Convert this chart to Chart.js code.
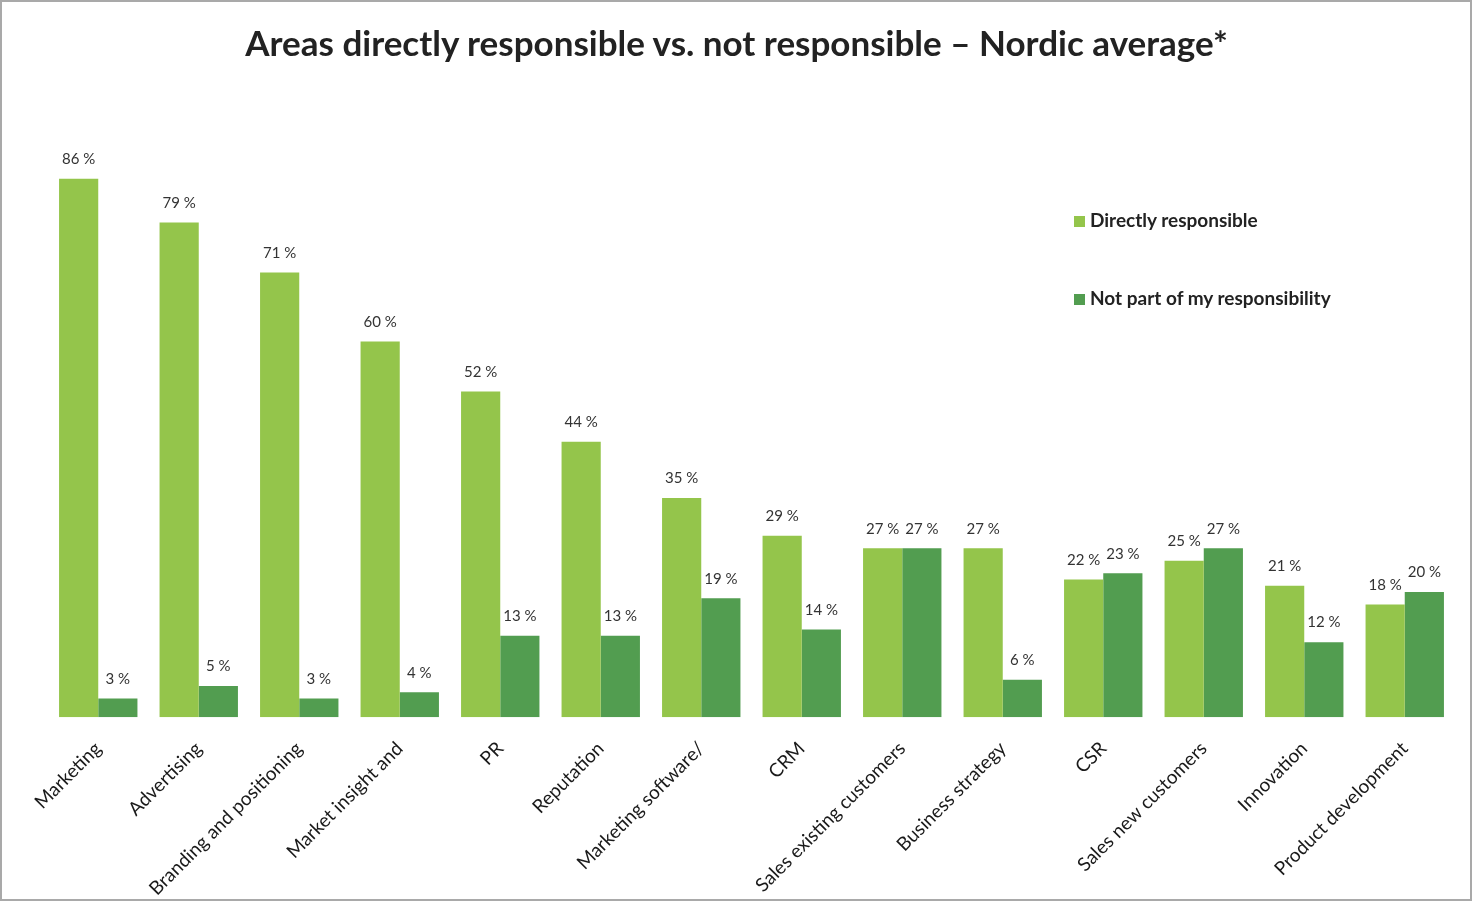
<!DOCTYPE html>
<html>
<head>
<meta charset="utf-8">
<script src="https://cdn.jsdelivr.net/npm/chart.js@4"></script>
<style>
  html, body { margin: 0; padding: 0; background: #fff; }
  #wrap { position: relative; width: 1473px; height: 902px; }
  #frame { position: absolute; left: 0; top: 0; width: 1468px; height: 897px; border: 2px solid #a9a9a9; pointer-events: none; }
  #title { position: absolute; left: 0; top: 22px; width: 1473px; text-align: center; font: bold 35px/40px Lato, sans-serif; color: #222; }
  .leg { position: absolute; left: 1074px; font: bold 19px Lato, sans-serif; color: #222; white-space: nowrap; }
  .leg span { display: inline-block; width: 11px; height: 11px; margin-right: 5px; }
</style>
</head>
<body>
<div id="wrap">
  <canvas id="chart" width="1473" height="902"></canvas>
  <div id="title">Areas directly responsible vs. not responsible – Nordic average*</div>
  <div class="leg" style="top:208px"><span style="background:#94c54b"></span>Directly responsible</div>
  <div class="leg" style="top:286px"><span style="background:#529d50"></span>Not part of my responsibility</div>
  <div id="frame"></div>
</div>
<script>
// Données du graphique
const categories = ['Marketing', 'Advertising', 'Branding and positioning', 'Market insight and',
  'PR', 'Reputation', 'Marketing software/', 'CRM', 'Sales existing customers',
  'Business strategy', 'CSR', 'Sales new customers', 'Innovation', 'Product development'];
const directly = [86, 79, 71, 60, 52, 44, 35, 29, 27, 27, 22, 25, 21, 18];
const notPart = [3, 5, 3, 4, 13, 13, 19, 14, 27, 6, 23, 27, 12, 20];

// Étiquettes de valeur au-dessus des barres
const valueLabels = {
    id: 'valueLabels',
    afterDatasetsDraw(chart) {
        const ctx = chart.ctx;
        ctx.save();
        ctx.font = '15px Lato, sans-serif';
        ctx.fillStyle = '#333';
        ctx.textAlign = 'center';
        ctx.textBaseline = 'bottom';
        chart.data.datasets.forEach((ds, i) => {
            chart.getDatasetMeta(i).data.forEach((bar, j) => {
                ctx.fillText(ds.data[j] + ' %', bar.x, bar.y - 12);
            });
        });
        ctx.restore();
    }
};

new Chart(document.getElementById('chart').getContext('2d'), {
    type: 'bar',
    data: {
        labels: categories,
        datasets: [
            { label: 'Directly responsible', data: directly, backgroundColor: '#94c54b', categoryPercentage: 0.78, barPercentage: 1 },
            { label: 'Not part of my responsibility', data: notPart, backgroundColor: '#529d50', categoryPercentage: 0.78, barPercentage: 1 }
        ]
    },
    options: {
        responsive: false,
        animation: false,
        layout: { padding: { left: 48, right: 18, top: 91, bottom: -10 } },
        plugins: {
            legend: { display: false },
            tooltip: { enabled: false }
        },
        scales: {
            x: {
                grid: { display: false },
                border: { display: false },
                ticks: {
                    color: '#1a1a1a',
                    font: { family: 'Lato, sans-serif', size: 19 },
                    minRotation: 45,
                    maxRotation: 45,
                    autoSkip: false,
                    padding: 12
                }
            },
            y: {
                display: false,
                min: 0,
                max: 100
            }
        }
    },
    plugins: [valueLabels]
});
</script>
</body>
</html>
